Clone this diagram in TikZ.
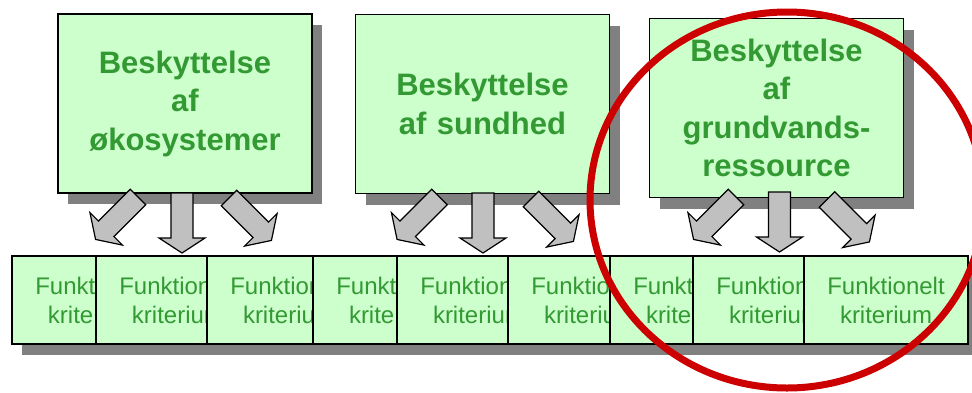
\documentclass[tikz,border=0pt]{standalone}
\usepackage{fontspec}
\setmainfont{Liberation Sans}
\usetikzlibrary{shadows}
\definecolor{boxfill}{HTML}{CCFFCC}
\definecolor{boxtext}{HTML}{339933}
\definecolor{arrfill}{HTML}{C0C0C0}
\definecolor{shadowgray}{HTML}{808080}
\definecolor{ringred}{HTML}{CC0000}
\tikzset{
  boxshadow/.style={drop shadow={shadow xshift=10pt, shadow yshift=-11pt, fill=shadowgray, opacity=1}},
  topbox/.style={draw=black, line width=1.5pt, fill=boxfill, boxshadow, inner sep=0pt, outer sep=0pt,
    minimum width=254pt, minimum height=179pt, text width=250pt, align=center, text=boxtext,
    font=\fontsize{31}{38.5}\selectfont\bfseries},
  critbox/.style={draw=black, line width=1.5pt, fill=boxfill, boxshadow, inner sep=0pt, outer sep=0pt,
    minimum width=164pt, minimum height=88pt, text width=160pt, align=center, text=boxtext,
    font=\fontsize{24}{29}\selectfont},
  blockarrow/.style={draw=black, line width=1.2pt, fill=arrfill, line join=miter},
  blockarr/.pic={\path[blockarrow] (0,-11) -- (45,-11) -- (45,-23) -- (60,0) -- (45,23) -- (45,11) -- (0,11) -- cycle;},
  ring/.style={draw=ringred, line width=7pt}
}
\begin{document}
\begin{tikzpicture}[x=1pt,y=-1pt]
\useasboundingbox (0,0) rectangle (972,392);
% top boxes
\node[topbox] (eco) at (185,103.5) {Beskyttelse\\af\\økosystemer};
\node[topbox] (sund) at (482.5,104) {Beskyttelse\\af sundhed};
\node[topbox] (grund) at (776.5,108) {Beskyttelse\\af\\grundvands-\\ressource};
% block arrows
\coordinate (e1) at (138,197);   \coordinate (e2) at (182,193);   \coordinate (e3) at (229,198);
\coordinate (s1) at (439.5,197); \coordinate (s2) at (483,193);   \coordinate (s3) at (531,199);
\coordinate (g1) at (736,197);   \coordinate (g2) at (779.5,192); \coordinate (g3) at (827,199.5);
\pic[rotate=-135] at (e1) {blockarr};
\pic[rotate=-90]  at (e2) {blockarr};
\pic[rotate=-45]  at (e3) {blockarr};
\pic[rotate=-135] at (s1) {blockarr};
\pic[rotate=-90]  at (s2) {blockarr};
\pic[rotate=-45]  at (s3) {blockarr};
\pic[rotate=-135] at (g1) {blockarr};
\pic[rotate=-90]  at (g2) {blockarr};
\pic[rotate=-45]  at (g3) {blockarr};
% bottom criterion boxes (each partly covered by the next)
\node[critbox] (k1) at (94,300)  {Funkt\phantom{ionelt}\\krite\phantom{rium}};
\node[critbox] (k2) at (178,300) {Funktion\phantom{elt}\\kriterium};
\node[critbox] (k3) at (289,300) {Funktion\phantom{elt}\\kriteriu\phantom{m}};
\node[critbox] (k4) at (395,300) {Funkt\phantom{ionelt}\\krite\phantom{rium}};
\node[critbox] (k5) at (479,300) {Funktion\phantom{elt}\\kriterium};
\node[critbox] (k6) at (590,300) {Funktio\phantom{nelt}\\kriteriu\phantom{m}};
\node[critbox] (k7) at (692,300) {Funkt\phantom{ionelt}\\krite\phantom{rium}};
\node[critbox] (k8) at (775,300) {Funktion\phantom{elt}\\kriterium};
\node[critbox] (k9) at (886,300) {Funktionelt\\kriterium};
% red ring
\draw[ring] (787,200) ellipse [x radius=197, y radius=188];
\end{tikzpicture}
\end{document}
